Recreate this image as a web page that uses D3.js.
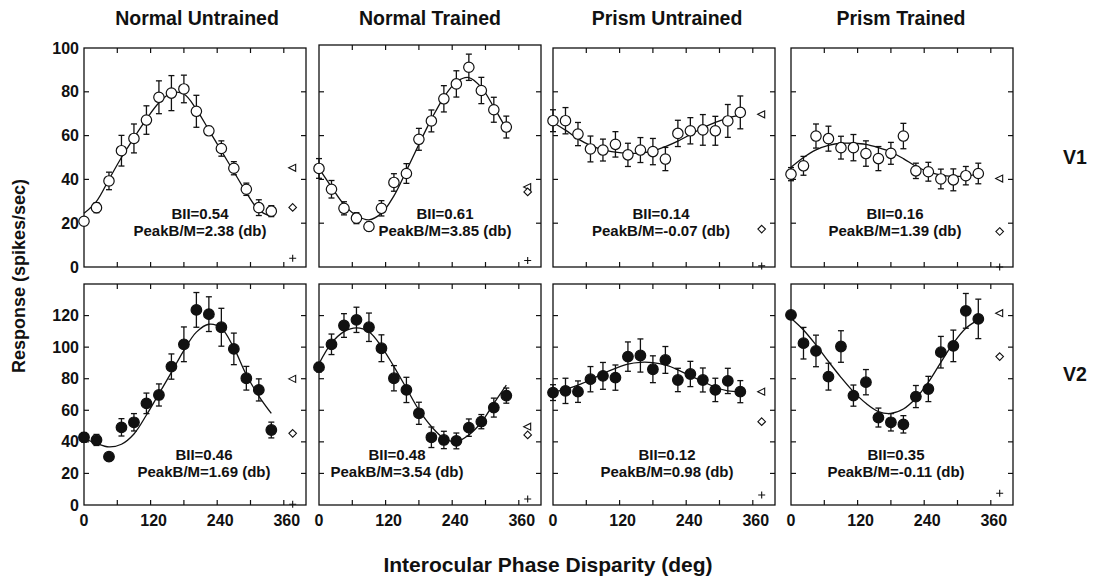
<!DOCTYPE html>
<html><head><meta charset="utf-8">
<script src="https://cdn.jsdelivr.net/npm/d3@7"></script>
<style>
body{margin:0;background:#fff;}
text{font-family:"Liberation Sans",Arial,sans-serif;font-weight:bold;fill:#111;}
</style></head>
<body><svg id="c" width="1093" height="578"></svg>
<script>
// ---------------- DATA ----------------
const columns = ["Normal Untrained","Normal Trained","Prism Untrained","Prism Trained"];
const rowsLabels = ["V1","V2"];
const phases = [0,22.5,45,67.5,90,112.5,135,157.5,180,202.5,225,247.5,270,292.5,315,337.5];
const xTickLabels = [0,120,240,360];
const v1TickLabels = [0,20,40,60,80,100];
const v2TickLabels = [0,20,40,60,80,100,120];

// V1 panels
const v1NU     = [20.9,27.1,39.3,53.1,58.7,67.1,77.5,79.4,81.3,71.1,62.2,54.1,45.1,35.5,27.1,25.5];
const v1NUErr  = [1,2.3,4,7,6.6,6.5,7.5,8,6.3,7.3,2,3.5,3,2.8,3.6,2.5];
const v1NUFit  = [24.5,30,40,50,59,67.5,75,79.5,79,72,62.5,53,43.5,34,26,23];
const v1NT     = [45,35.5,26.8,22.3,18.5,26.8,38.6,42.7,58.3,66.7,76.8,83.6,91.2,80.6,71.8,63.9];
const v1NTErr  = [4.5,4,3,2.5,2,3.5,4,4.5,5,5,6,6,6,6,5.7,5];
const v1NTFit  = [45,36.5,28.5,23.5,21.5,24.5,32.5,44,56,67.5,77.5,84.5,86.5,82,73,63];
const v1PU     = [66.8,66.8,60.7,53.9,53.4,56,51.2,53.4,52.7,49.3,61,62.2,62.6,62.2,66.7,70.6];
const v1PUErr  = [5,6,5.3,5.9,5,5.8,5.3,5.7,6,5.3,6,6,7,6.6,7.5,7.5];
const v1PUFit  = [66,62.5,58.5,55.5,53.5,52.5,52,52,53,55,57.5,60.5,63.5,66,68,69.5];
const v1PT     = [42.4,46.2,59.8,58.6,54.5,54.5,51.8,49.5,51.9,59.8,43.9,43.5,40.2,39.8,41.7,42.7];
const v1PTErr  = [3,4.3,5.5,5.7,5.2,6,5.8,5.5,5,5.8,3.5,4.3,4.5,5,4.2,4.7];
const v1PTFit  = [45.5,50,53.5,55.5,56.5,56.5,56,54.5,52.5,49.5,46,43.5,42,41.5,41.5,42.5];
// V2 panels
const v2NU     = [42.9,41.2,30.6,49.2,52.4,64.4,69.7,87.7,101.8,123.6,120.9,112.6,98.9,80.3,72.9,47.5];
const v2NUErr  = [3,3.5,1.5,5.5,5.5,6.5,7,8,11,11,11,12,10,7.5,7,5];
const v2NUFit  = [42.3,39,36.8,38.5,45,57,70.5,84,98,109.5,114.5,112,99.5,82.5,69,58];
const v2NT     = [87.3,101.8,113.7,117.3,112.6,99.3,80.3,72.9,58.1,42.9,41.2,40.6,49,52.8,61.7,69.3];
const v2NTErr  = [3,6.5,7.5,8,9,8.5,8,8,7,6.5,5.5,5,5.5,4.5,6,4.8];
const v2NTFit  = [89.5,102.5,109.8,112.2,109.8,100.4,87.7,74,60.2,49.7,42.3,40.1,44.4,52.4,64.4,76];
const v2PU     = [71.2,72.3,71.8,79.7,81.8,80.7,94,94.7,86,91.9,79.2,83,79.2,72.9,78.6,71.8];
const v2PUErr  = [5,8,6.8,8,8.5,8,9.3,10.5,8.5,8.5,7.4,8,7.6,7.4,8,7];
const v2PUFit  = [71.8,73.3,76,79.2,83.3,86.6,89.3,90.4,90.2,88.7,85.6,81.8,78.2,74.6,72.3,71.8];
const v2PT     = [120.4,102.5,97.6,81.3,100.4,69.3,77.8,55.4,52.4,51.1,68.7,73.5,96.8,100.8,123,117.9];
const v2PTErr  = [1,10,10,8.5,10,6.7,8,6,5.5,5.5,7,8,10,10,11,12.5];
const v2PTFit  = [118.3,110.9,101.4,90.9,80.9,71.8,64.4,59.2,58,60.8,67.6,77.8,90.4,102.5,112,117.3];

// monocular / spontaneous markers: [left-triangle, diamond, plus]
const monoPhase = 376;
const v1Mono = [[45.3,27.2,4],[36.5,34.3,3],[69.7,17.3,0.5],[40.4,16.2,0]];
const v2Mono = [[79.9,45.4,0.5],[49.6,44.4,3.8],[71.8,52.8,6.3],[121.5,94,7.4]];

const biiValues  = [["0.54","0.61","0.14","0.16"],["0.46","0.48","0.12","0.35"]];
const peakValues = [["2.38","3.85","-0.07","1.39"],["1.69","3.54","0.98","-0.11"]];

const rowSeries = [
  [[v1NU,v1NUErr,v1NUFit],[v1NT,v1NTErr,v1NTFit],[v1PU,v1PUErr,v1PUFit],[v1PT,v1PTErr,v1PTFit]],
  [[v2NU,v2NUErr,v2NUFit],[v2NT,v2NTErr,v2NTFit],[v2PU,v2PUErr,v2PUFit],[v2PT,v2PTErr,v2PTFit]]
];
const rowMono = [v1Mono, v2Mono];

// ---------------- LAYOUT ----------------
const svg = d3.select("#c");
const colX = [84, 319, 553, 791];
const panelW = 222;
const rowGeom = [
  {top:48, bottom:267, ymax:100, ticks:v1TickLabels, tops:[48,45,48,48]},
  {top:284, bottom:505, ymax:140, ticks:v2TickLabels, tops:[284,284,284,284]}
];
const textOff = [[116,126,108,104],[120,78,114,105]];
const textY = [[214,231],[455,472]];

rowGeom.forEach((rg, r) => {
  const y = d3.scaleLinear().domain([0, rg.ymax]).range([rg.bottom, rg.top]);
  colX.forEach((x0, c) => {
    const x = d3.scaleLinear().domain([0, 400]).range([x0, x0 + panelW]);
    const g = svg.append("g");
    const top = rg.tops[c];
    g.append("rect").attr("x", x0).attr("y", top).attr("width", panelW).attr("height", rg.bottom - top)
      .attr("fill","none").attr("stroke","#111").attr("stroke-width",1.3);
    const xt = d3.range(60, 361, 60);
    const yt = d3.range(20, rg.ymax, 20);
    const tl = 5;
    xt.forEach(v => {
      g.append("line").attr("x1",x(v)).attr("x2",x(v)).attr("y1",rg.bottom).attr("y2",rg.bottom-tl).attr("stroke","#111").attr("stroke-width",1.2);
      g.append("line").attr("x1",x(v)).attr("x2",x(v)).attr("y1",top).attr("y2",top+tl).attr("stroke","#111").attr("stroke-width",1.2);
    });
    yt.forEach(v => {
      g.append("line").attr("x1",x0).attr("x2",x0+tl).attr("y1",y(v)).attr("y2",y(v)).attr("stroke","#111").attr("stroke-width",1.2);
      g.append("line").attr("x1",x0+panelW).attr("x2",x0+panelW-tl).attr("y1",y(v)).attr("y2",y(v)).attr("stroke","#111").attr("stroke-width",1.2);
    });
    if (c === 0) {
      rg.ticks.forEach(v => {
        g.append("text").attr("x", x0 - 5).attr("y", y(v) + 5.5).attr("text-anchor","end")
          .attr("font-size", 16).text(v);
      });
    }
    if (r === 1) {
      xTickLabels.forEach(v => {
        g.append("text").attr("x", x(v) + (v === 0 ? 0 : 3)).attr("y", 526).attr("text-anchor","middle")
          .attr("font-size", 16).text(v);
      });
    }
    const [vals, errs, fit] = rowSeries[r][c];
    const line = d3.line().x((d,i) => x(phases[i])).y(d => y(d)).curve(d3.curveCatmullRom.alpha(0.5));
    g.append("path").attr("d", line(fit)).attr("fill","none").attr("stroke","#111").attr("stroke-width",1.3);
    vals.forEach((v,i) => {
      const px = x(phases[i]), e = errs[i];
      g.append("line").attr("x1",px).attr("x2",px).attr("y1",y(v-e)).attr("y2",y(v+e)).attr("stroke","#111").attr("stroke-width",1.3);
      [v-e, v+e].forEach(w => g.append("line").attr("x1",px-3).attr("x2",px+3).attr("y1",y(w)).attr("y2",y(w)).attr("stroke","#111").attr("stroke-width",1.3));
    });
    vals.forEach((v,i) => {
      g.append("circle").attr("cx", x(phases[i])).attr("cy", y(v)).attr("r", r === 0 ? 5.2 : 5.3)
        .attr("fill", r === 0 ? "#fff" : "#111").attr("stroke","#111").attr("stroke-width",1.2);
    });
    const [tri, dia, plus] = rowMono[r][c];
    const mx = x(monoPhase);
    g.append("path").attr("d", `M${mx-4},${y(tri)}L${mx+3},${y(tri)-3.5}L${mx+3},${y(tri)+3.5}Z`)
      .attr("fill","#fff").attr("stroke","#111").attr("stroke-width",1.1);
    g.append("path").attr("d", `M${mx},${y(dia)-3.8}L${mx+3.8},${y(dia)}L${mx},${y(dia)+3.8}L${mx-3.8},${y(dia)}Z`)
      .attr("fill","#fff").attr("stroke","#111").attr("stroke-width",1.1);
    g.append("path").attr("d", `M${mx-3.5},${y(plus)}H${mx+3.5}M${mx},${y(plus)-3.5}V${y(plus)+3.5}`)
      .attr("stroke","#111").attr("stroke-width",1.1);
    const cx = x0 + textOff[r][c];
    g.append("text").attr("x", cx).attr("y", textY[r][0] + 5).attr("text-anchor","middle").attr("font-size",15)
      .text("BII=" + biiValues[r][c]);
    g.append("text").attr("x", cx).attr("y", textY[r][1] + 5).attr("text-anchor","middle").attr("font-size",15)
      .text("PeakB/M=" + peakValues[r][c] + " (db)");
  });
});

const titleX = [197, 430, 667, 901];
columns.forEach((t,i) => svg.append("text").attr("x", titleX[i]).attr("y", 25).attr("text-anchor","middle").attr("font-size",19.5).text(t));
[157, 374].forEach((yy,i) => svg.append("text").attr("x", 1075).attr("y", yy + 7).attr("text-anchor","middle").attr("font-size",19.5).text(rowsLabels[i]));
svg.append("text").attr("transform","translate(25,276) rotate(-90)").attr("text-anchor","middle").attr("font-size",18).text("Response (spikes/sec)");
svg.append("text").attr("x", 548).attr("y", 572).attr("text-anchor","middle").attr("font-size",21).text("Interocular Phase Disparity (deg)");
</script></body></html>
